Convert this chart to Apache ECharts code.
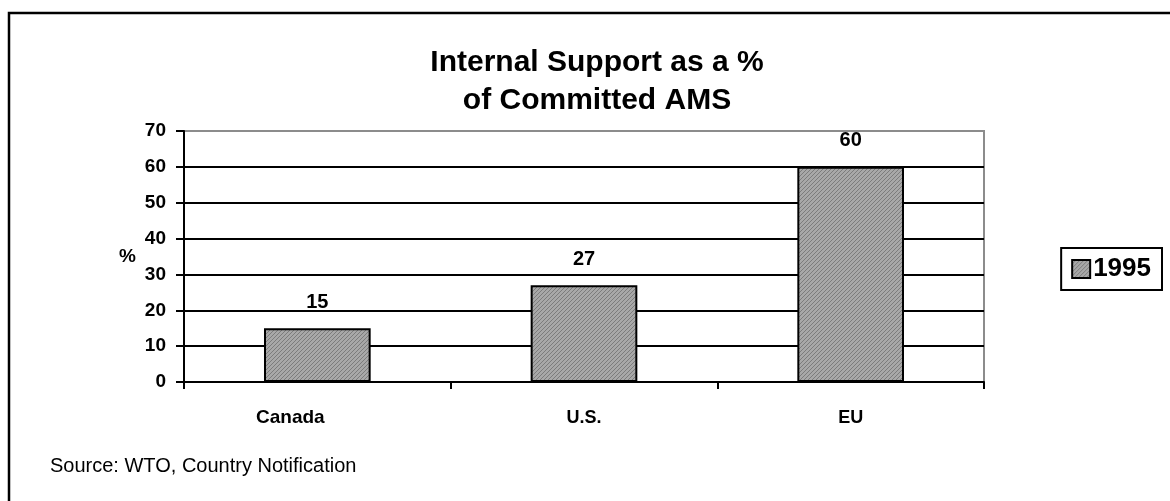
<!DOCTYPE html>
<html>
<head>
<meta charset="utf-8">
<script src="https://cdn.jsdelivr.net/npm/echarts@6/dist/echarts.min.js"></script>
<style>
html,body{margin:0;padding:0;background:#fff;}
#chart{width:1170px;height:501px;}
</style>
</head>
<body>
<div id="chart"></div>
<script>
const categories = ['Canada', 'U.S.', 'EU'];
const seriesName = '1995';
const values = [15, 27, 60];
const yTicks = [0, 10, 20, 30, 40, 50, 60, 70];
const titleLines = ['Internal Support as a %', 'of Committed AMS'];
const sourceText = 'Source: WTO, Country Notification';

const FONT = '"Liberation Sans", Arial, sans-serif';

// hatch pattern
const pc = document.createElement('canvas');
pc.width = 4; pc.height = 4;
const px = pc.getContext('2d');
px.fillStyle = '#a8a8a8';
px.fillRect(0, 0, 4, 4);
px.fillStyle = '#7c7c7c';
for (let i = 0; i < 4; i++) { px.fillRect(3 - i, i, 1, 1); }
const hatch = { image: pc, repeat: 'repeat' };

const chart = echarts.init(document.getElementById('chart'));
const splitColors = yTicks.map((t, i) => i === yTicks.length - 1 ? '#8c8c8c' : '#000');
const catLabelStyle = { fontFamily: FONT, fontSize: 18, fontWeight: 'bold', color: '#000', lineHeight: 22 };

chart.setOption({
  animation: false,
  backgroundColor: '#fff',
  textStyle: { fontFamily: FONT },
  grid: {
    left: 184, right: 186, top: 131, bottom: 119,
    show: true, borderColor: '#8c8c8c', borderWidth: 2, backgroundColor: 'transparent'
  },
  graphic: [
    { type: 'rect', shape: { x: 9, y: 13, width: 1300, height: 700 },
      style: { fill: 'none', stroke: '#000', lineWidth: 2.5 }, silent: true },
    { type: 'text', x: 597, y: 44,
      style: { text: titleLines.join('\n'), fontFamily: FONT, fontSize: 30, fontWeight: 'bold',
               fill: '#000', textAlign: 'center', lineHeight: 38 } },
    { type: 'text', x: 50, y: 456,
      style: { text: sourceText, fontFamily: FONT, fontSize: 20, fill: '#000' } }
  ],
  legend: {
    data: [seriesName],
    right: 8, top: 248,
    orient: 'vertical',
    borderColor: '#000', borderWidth: 2,
    padding: [8, 11, 8, 10],
    itemWidth: 18, itemHeight: 18, itemGap: 0,
    icon: 'rect',
    textStyle: { fontFamily: FONT, fontSize: 26, fontWeight: 'bold', color: '#000', padding: [0, 0, 0, -2] }
  },
  xAxis: {
    type: 'category',
    data: categories,
    axisLine: { lineStyle: { color: '#000', width: 2 } },
    axisTick: { show: true, length: 7, lineStyle: { color: '#000', width: 2 } },
    axisLabel: {
      color: '#000', fontFamily: FONT, fontSize: 18, fontWeight: 'bold', margin: 25,
      formatter: (v, i) => i === 0 ? '{s|' + v + '}' : '{n|' + v + '}',
      rich: {
        n: Object.assign({}, catLabelStyle),
        s: Object.assign({ padding: [0, 54, 0, 0] }, catLabelStyle, { fontSize: 19 })
      }
    }
  },
  yAxis: {
    type: 'value',
    min: 0, max: 70, interval: 10,
    name: '%',
    nameLocation: 'middle',
    nameRotate: 0,
    nameGap: 48,
    nameTextStyle: { color: '#000', fontFamily: FONT, fontSize: 19, fontWeight: 'bold' },
    axisLine: { show: true, lineStyle: { color: '#000', width: 2 } },
    axisTick: { show: true, length: 8, lineStyle: { color: '#000', width: 2 } },
    axisLabel: { color: '#000', fontFamily: FONT, fontSize: 19, fontWeight: 'bold', margin: 18 },
    splitLine: { show: true, lineStyle: { color: splitColors, width: 2 } }
  },
  series: [{
    name: seriesName,
    type: 'bar',
    data: values,
    barWidth: '40%',
    itemStyle: { color: hatch, borderColor: '#000', borderWidth: 2 },
    label: { show: true, position: 'top', distance: 16, color: '#000',
             fontFamily: FONT, fontSize: 20, fontWeight: 'bold' }
  }]
});
</script>
</body>
</html>
